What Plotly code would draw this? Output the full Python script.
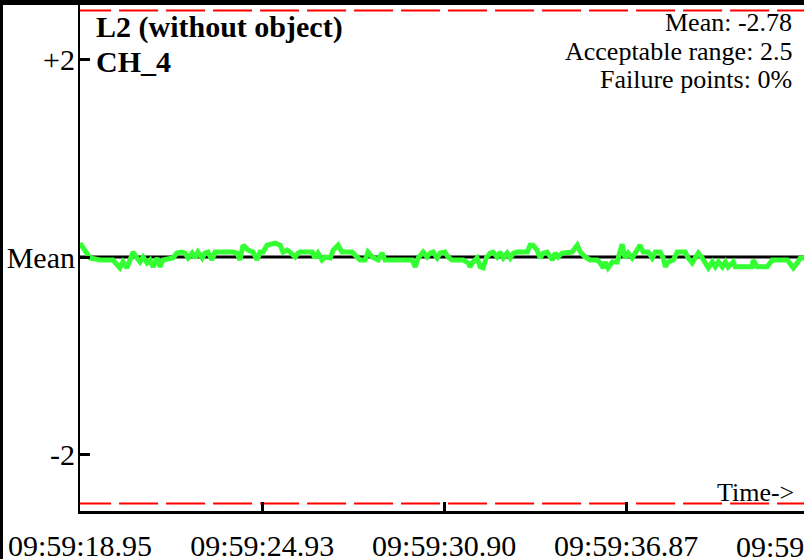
import plotly.graph_objects as go

# ---- data ----
mean_value = -2.78
acceptable_range = 2.5
failure_points = "0%"
channel = "CH_4"
title = "L2 (without object)"

# time in seconds after 09:59:00
times = [
    18.95, 19.18, 19.28, 19.61, 20.03, 20.26, 20.36, 20.49, 20.59, 20.69,
    20.82, 20.92, 21.02, 21.15, 21.25, 21.35, 21.48, 21.58, 21.67, 22.00,
    22.13, 22.30, 22.40, 22.50, 22.63, 22.73, 22.82, 22.96, 23.05, 23.15,
    23.28, 23.38, 23.97, 24.10, 24.20, 24.30, 24.47, 24.63, 24.76, 24.86,
    24.96, 25.09, 25.35, 25.52, 25.61, 25.75, 25.84, 26.01, 26.11, 26.17,
    26.57, 26.66, 26.76, 26.89, 26.99, 27.16, 27.26, 27.42, 27.55, 27.88,
    28.14, 28.31, 28.40, 28.54, 28.73, 28.86, 28.96, 29.19, 29.69, 29.85,
    29.95, 30.05, 30.21, 30.34, 30.44, 30.54, 30.67, 30.77, 30.93, 31.03,
    31.16, 31.52, 31.69, 31.75, 31.85, 31.98, 32.08, 32.18, 32.28, 32.41,
    32.51, 32.64, 32.74, 32.84, 32.97, 33.07, 33.17, 33.30, 33.63, 33.72,
    33.82, 33.95, 34.05, 34.15, 34.28, 34.45, 34.54, 34.64, 34.77, 34.94,
    35.10, 35.27, 35.37, 35.53, 35.69, 35.92, 36.02, 36.12, 36.19, 36.28,
    36.42, 36.58, 36.74, 36.84, 36.94, 37.07, 37.33, 37.43, 37.60, 37.73,
    37.83, 37.99, 38.09, 38.16, 38.25, 38.42, 38.55, 38.81, 38.91, 39.04,
    39.14, 39.24, 39.37, 39.47, 39.57, 39.70, 39.80, 39.90, 40.03, 40.13,
    40.22, 40.39, 40.45, 40.62, 41.01, 41.04, 41.18, 41.50, 41.67, 42.16,
    42.36, 42.49, 42.59, 42.75,
]
values = [
    -2.64, -2.74, -2.79, -2.81, -2.81, -2.89, -2.83, -2.89, -2.81, -2.73,
    -2.79, -2.83, -2.78, -2.84, -2.81, -2.88, -2.79, -2.88, -2.81, -2.79,
    -2.74, -2.73, -2.74, -2.79, -2.74, -2.79, -2.73, -2.79, -2.74, -2.73,
    -2.81, -2.73, -2.73, -2.74, -2.81, -2.66, -2.71, -2.73, -2.81, -2.73,
    -2.73, -2.66, -2.64, -2.66, -2.73, -2.71, -2.73, -2.78, -2.74, -2.73,
    -2.73, -2.79, -2.74, -2.81, -2.78, -2.79, -2.71, -2.66, -2.73, -2.73,
    -2.81, -2.81, -2.73, -2.78, -2.81, -2.74, -2.81, -2.81, -2.81, -2.81,
    -2.88, -2.79, -2.73, -2.78, -2.74, -2.73, -2.79, -2.74, -2.73, -2.78,
    -2.81, -2.81, -2.84, -2.88, -2.83, -2.79, -2.88, -2.89, -2.79, -2.74,
    -2.73, -2.78, -2.73, -2.79, -2.74, -2.79, -2.74, -2.73, -2.73, -2.66,
    -2.66, -2.71, -2.79, -2.74, -2.73, -2.81, -2.74, -2.78, -2.74, -2.73,
    -2.73, -2.66, -2.73, -2.78, -2.81, -2.81, -2.84, -2.89, -2.83, -2.89,
    -2.83, -2.83, -2.65, -2.79, -2.74, -2.79, -2.66, -2.73, -2.73, -2.79,
    -2.73, -2.73, -2.79, -2.88, -2.83, -2.81, -2.73, -2.73, -2.79, -2.84,
    -2.78, -2.74, -2.79, -2.83, -2.89, -2.83, -2.88, -2.83, -2.88, -2.83,
    -2.88, -2.83, -2.88, -2.88, -2.88, -2.81, -2.88, -2.88, -2.81, -2.81,
    -2.89, -2.84, -2.79, -2.79,
]

x_tick_vals = [18.95, 24.93, 30.90, 36.87]
x_tick_text = ["09:59:18.95", "09:59:24.93", "09:59:30.90", "09:59:36.87"]
x_next_tick = "09:59:42.84"
y_offsets = [2, 0, -2]
y_tick_text = ["+2", "Mean", "-2"]

x_min, x_max = 18.95, 42.71
y_top_extra, y_bottom_extra = 2.556, 2.576

FONT = "Liberation Serif"

fig = go.Figure()

# mean line
fig.add_trace(go.Scatter(x=[x_min, x_max], y=[mean_value, mean_value], mode="lines",
                         line=dict(color="black", width=3), hoverinfo="skip"))
# acceptable range (red dashed)
dash_start = x_min - 0.26
for sgn in (1, -1):
    fig.add_trace(go.Scatter(x=[dash_start, x_max], y=[mean_value + sgn * acceptable_range] * 2,
                             mode="lines", line=dict(color="#ff0000", width=2, dash="39px,8px"),
                             hoverinfo="skip"))
# signal
fig.add_trace(go.Scatter(x=times, y=values, mode="lines",
                         line=dict(color="#33ff33", width=5)))

fig.update_layout(
    width=804, height=559,
    margin=dict(l=80, r=0, t=5, b=48, pad=0, autoexpand=False),
    paper_bgcolor="white", plot_bgcolor="white",
    showlegend=False,
    font=dict(family=FONT, color="black"),
    xaxis=dict(range=[x_min, x_max], tickvals=x_tick_vals, ticktext=x_tick_text,
               ticks="inside", ticklen=9, tickwidth=3, tickcolor="black", automargin=False,
               showline=True, linecolor="black", linewidth=3, showgrid=False, zeroline=False,
               tickfont=dict(size=30, family=FONT, color="black"), ticklabelstandoff=6),
    yaxis=dict(range=[mean_value - y_bottom_extra, mean_value + y_top_extra],
               tickvals=[mean_value + o for o in y_offsets], ticktext=y_tick_text,
               ticks="inside", ticklen=10, tickwidth=3, tickcolor="black", automargin=False,
               showline=True, linecolor="black", linewidth=2, showgrid=False, zeroline=False,
               tickfont=dict(size=30, family=FONT, color="black"), ticklabelstandoff=-3),
)

# black frame pieces (top and left)
fig.add_shape(type="rect", xref="paper", yref="paper", x0=-1, x1=2,
              ysizemode="pixel", yanchor=1, y0=0, y1=6,
              fillcolor="black", line=dict(width=0), layer="above")
fig.add_shape(type="rect", yref="paper", xref="paper", y0=-1, y1=2,
              xsizemode="pixel", xanchor=0, x0=-80, x1=-77,
              fillcolor="black", line=dict(width=0), layer="above")

ann = []
ann.append(dict(text="<b>" + title + "</b>", x=0.0207, y=0.9565, xanchor="left", yanchor="middle",
                font=dict(size=30)))
ann.append(dict(text="<b>" + channel + "</b>", x=0.0207, y=0.889, xanchor="left", yanchor="middle",
                font=dict(size=30)))
ann.append(dict(text=f"Mean: {mean_value}", x=0.9848, y=0.966, xanchor="right", yanchor="middle",
                font=dict(size=26)))
ann.append(dict(text=f"Acceptable range: {acceptable_range}", x=0.9848, y=0.909, xanchor="right",
                yanchor="middle", font=dict(size=26)))
ann.append(dict(text=f"Failure points: {failure_points}", x=0.9848, y=0.852, xanchor="right",
                yanchor="middle", font=dict(size=26)))
ann.append(dict(text="Time->", x=0.9876, y=0.0356, xanchor="right", yanchor="middle",
                font=dict(size=26)))
ann.append(dict(text=x_next_tick, x=(808 - 80) / 724, y=-0.0705, xanchor="center", yanchor="middle",
                font=dict(size=30)))
for a in ann:
    a.update(xref="paper", yref="paper", showarrow=False, borderpad=0)
    a["font"].update(family=FONT, color="black")
fig.update_layout(annotations=ann)

page_css = (
    "var d=document.documentElement,b=document.body;"
    "[d,b].forEach(function(e){e.style.margin='0';e.style.padding='0';"
    "e.style.height='559px';e.style.width='804px';e.style.overflow='hidden';});"
    "var p=b.firstElementChild;if(p){p.style.height='559px';p.style.overflow='hidden';}"
)
fig.write_html("out.html", config={"displayModeBar": False}, post_script=page_css)
